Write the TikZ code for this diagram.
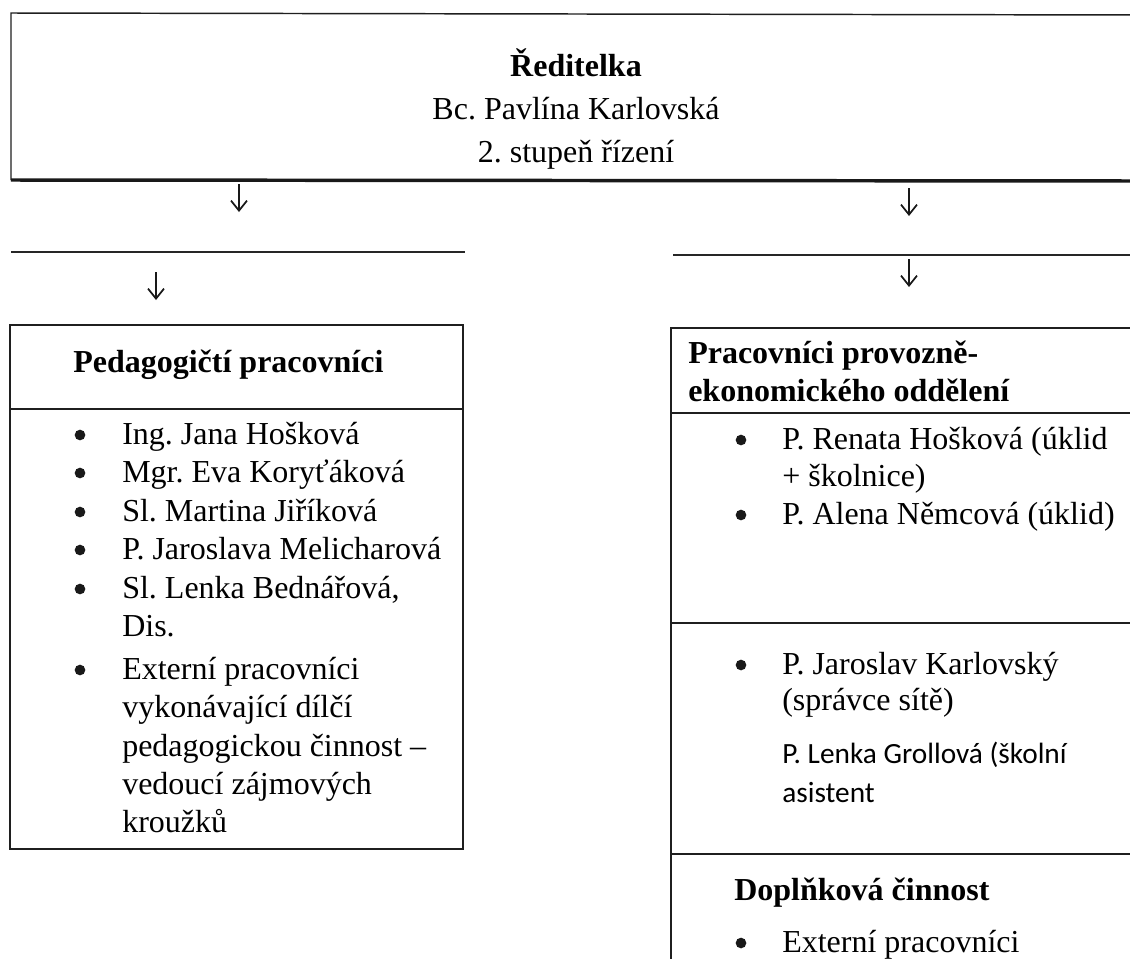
\documentclass[tikz,border=0pt]{standalone}
\usepackage{fontspec}
\setmainfont{Liberation Serif}
\newfontfamily\calfont{Carlito}
\usetikzlibrary{arrows.meta}
\frenchspacing

\tikzset{
  box/.style={draw=black!88, line width=1.1pt},
  rule/.style={draw=black!85, line width=1.4pt},
  dnarr/.style={draw=black!90, line width=1.3pt, -{Straight Barb[length=7.5pt,width=12pt]}},
  txt/.style={font=\fontsize{24}{28.8}\selectfont, inner sep=0pt, anchor=base west},
  ttl/.style={font=\fontsize{24}{28.8}\selectfont\bfseries, inner sep=0pt, anchor=base west},
  cal/.style={font=\fontsize{22}{26}\calfont, inner sep=0pt, anchor=base west},
  dot/.style={circle, fill=black!90, inner sep=0pt, minimum size=8pt},
}

\begin{document}
\begin{tikzpicture}[x=0.75pt,y=0.75pt,yscale=-1,xscale=1]
\clip (0,0) rectangle (1130,958);
\fill [white] (0,0) rectangle (1130,958);

%Boxes
\draw [box] (11,180) -- (11,13) -- (1150,15);
\draw [black!90, line width=2.6pt] (11,180) -- (1150,181);
\draw [box] (10,325) rectangle (463,849);
\draw [box] (10,409) -- (463,409);
\draw [box] (671,328) rectangle (1150,990);
\draw [box] (671,413) -- (1150,413);
\draw [box] (671,623) -- (1150,623);
\draw [box] (671,854) -- (1150,854);

%Straight Lines
\draw [rule] (11,252) -- (465,252);
\draw [rule] (673,255) -- (1150,255);

%Arrows
\foreach \n/\xx/\ya/\yb in {a/239/184/212, b/909/188/216, c/156/272/300, d/909/259/287}{
  \coordinate (\n top) at (\xx,\ya);
  \coordinate (\n tip) at (\xx,\yb);
  \draw [dnarr] (\n top) -- (\n tip);
}

% Text Node
\draw (576,76) node [ttl, anchor=base] (head) {Ředitelka};
\draw (576,119) node [txt, anchor=base] (headname) {Bc. Pavlína Karlovská};
\draw (576,162) node [txt, anchor=base] (headlvl) {2. stupeň řízení};

% Text Node
\draw (73,372) node [ttl] (pedtitle) {Pedagogičtí pracovníci};
\foreach \yy in {444,482,521,559,598,679}
  \draw (80,\yy-9) node [dot] (pedb\yy) {};
\foreach \yy/\lbl in {444/Ing. Jana Hošková, 482/Mgr. Eva Koryťáková, 521/Sl. Martina Jiříková,
    559/P. Jaroslava Melicharová, 598/{Sl. Lenka Bednářová,}, 636/Dis., 679/Externí pracovníci,
    717/vykonávající dílčí, 756/pedagogickou činnost –, 794/vedoucí zájmových, 832/kroužků}
  \draw (122,\yy) node [txt] (pedl\yy) {\lbl};

% Text Node
\draw (688,363) node [ttl] (provtitle) {Pracovníci provozně-};
\draw (688,401) node [ttl] (provtitlb) {ekonomického oddělení};
\foreach \yy in {449,524,674,952}
  \draw (741,\yy-9) node [dot] (provb\yy) {};
\foreach \yy/\lbl in {449/P. Renata Hošková (úklid, 486/+ školnice), 524/P. Alena Němcová (úklid),
    674/P. Jaroslav Karlovský, 710/(správce sítě), 952/Externí pracovníci}
  \draw (782,\yy) node [txt] (provl\yy) {\lbl};
\draw (782,763) node [cal] (asist) {P. Lenka Grollová (školní};
\draw (782,802) node [cal] (asistb) {asistent};

% Text Node
\draw (734,900) node [ttl] (doplnek) {Doplňková činnost};

\end{tikzpicture}
\end{document}
